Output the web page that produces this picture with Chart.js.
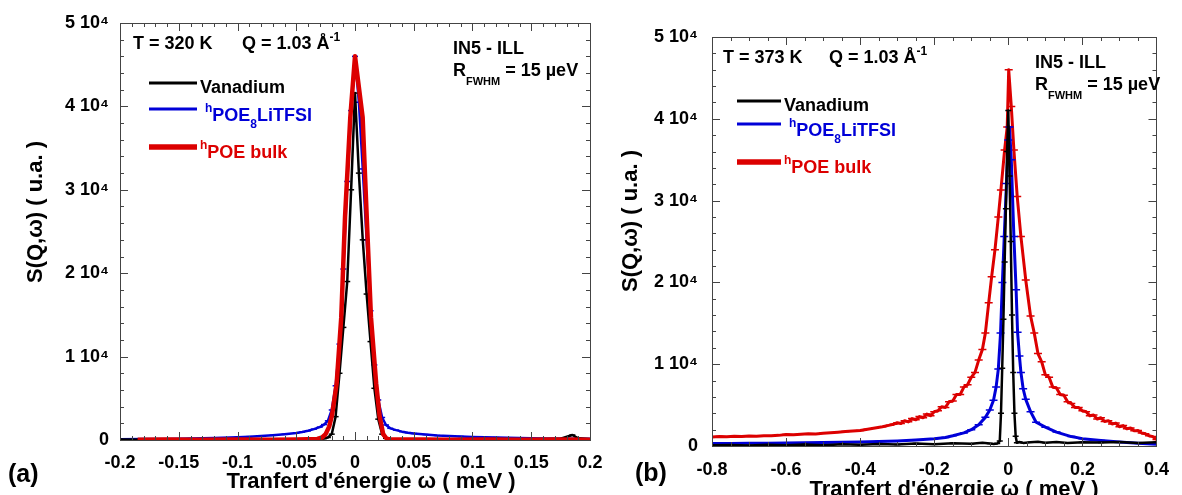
<!DOCTYPE html>
<html>
<head>
<meta charset="utf-8">
<script src="https://cdn.jsdelivr.net/npm/chart.js@4"></script>
<style>
html, body { margin: 0; padding: 0; background: #fff; overflow: hidden; width: 1182px; height: 495px; }
canvas { position: absolute; top: 0; }
</style>
</head>
<body>
<canvas id="grA" width="620" height="495" style="left:0"></canvas>
<canvas id="grB" width="582" height="505" style="left:600px"></canvas>
<script>
// ---- (a) T = 320 K ----
const aVanX = [-0.2,-0.18,-0.16,-0.14,-0.12,-0.1,-0.08,-0.06,-0.05,-0.04,-0.033,-0.0297,-0.0264,-0.0231,-0.0198,-0.0165,-0.0132,-0.0099,-0.0066,-0.0033,0,0.0033,0.0066,0.0099,0.0132,0.0165,0.0198,0.0231,0.0264,0.0297,0.035,0.04,0.05,0.06,0.08,0.1,0.12,0.14,0.16,0.175,0.185,0.19,0.2];
const aVanY = [60,20,80,40,10,60,30,80,50,90,120,100,180,300,700,2800,8000,13500,19000,30000,41600,32000,24000,17500,11800,6200,2500,700,200,80,60,30,70,40,90,30,110,60,80,150,600,200,100];

const aLitX = [-0.2,-0.18,-0.16,-0.14,-0.12,-0.1,-0.09,-0.08,-0.07,-0.06,-0.05,-0.045,-0.04,-0.035,-0.03,-0.0264,-0.0231,-0.0198,-0.0165,-0.0132,-0.0099,-0.0066,-0.0033,0,0.0033,0.0066,0.0099,0.0132,0.0165,0.0198,0.0231,0.0264,0.03,0.035,0.04,0.045,0.05,0.06,0.07,0.08,0.09,0.1,0.12,0.14,0.16,0.18,0.2];
const aLitY = [100,110,130,170,230,340,400,470,560,680,830,950,1100,1300,1550,1850,2300,3600,6500,11500,20500,31000,39500,46000,40500,32500,24000,15500,9000,4800,2700,1800,1400,1180,1000,880,780,650,540,470,420,370,290,230,190,160,140];

const aBulkX = [-0.185,-0.16,-0.13,-0.1,-0.07,-0.05,-0.04,-0.032,-0.028,-0.025,-0.022,-0.0195,-0.0156,-0.0117,-0.0085,-0.004,0,0.0065,0.01,0.0136,0.018,0.021,0.024,0.027,0.03,0.04,0.06,0.08,0.11,0.14,0.17,0.2];
const aBulkY = [40,60,30,50,40,60,80,120,300,700,1600,3000,6800,14700,26700,38700,46000,38700,26700,14700,6800,2800,700,150,60,50,70,40,60,30,50,40];

// ---- (b) T = 373 K ----
const bVanX = [-0.8,-0.75,-0.7,-0.65,-0.6,-0.55,-0.5,-0.45,-0.4,-0.35,-0.3,-0.25,-0.2,-0.15,-0.1,-0.07,-0.05,-0.04,-0.03,-0.0231,-0.0198,-0.0165,-0.0132,-0.0099,-0.0066,-0.0033,0,0.0033,0.0066,0.0099,0.0132,0.0165,0.0198,0.0231,0.03,0.04,0.06,0.08,0.1,0.13,0.16,0.2,0.25,0.3,0.35,0.4];
const bVanY = [80,120,60,150,100,180,90,200,150,250,180,300,220,350,280,400,320,250,300,600,4000,9500,15500,22500,29000,36000,41000,33000,25000,16000,9000,4000,1200,400,500,380,450,520,400,480,380,450,420,500,380,450];

const bLitX = [-0.8,-0.75,-0.7,-0.65,-0.6,-0.55,-0.5,-0.45,-0.4,-0.35,-0.3,-0.25,-0.2,-0.17,-0.15,-0.12,-0.1,-0.08,-0.062,-0.05,-0.04,-0.033,-0.027,-0.021,-0.016,-0.011,-0.005,0,0.003,0.008,0.015,0.021,0.025,0.03,0.034,0.04,0.047,0.06,0.075,0.1,0.13,0.17,0.2,0.25,0.3,0.35,0.4];
const bLitY = [300,320,330,350,370,400,430,460,500,550,620,740,900,1050,1250,1600,2000,2600,3500,4400,5600,7200,9400,13800,20000,25600,32100,37400,39000,35000,25600,19100,13900,11000,9000,7000,5700,4200,2900,2300,1700,1150,900,680,480,330,200];

const bBulkX = [-0.8,-0.78,-0.76,-0.74,-0.72,-0.7,-0.68,-0.66,-0.64,-0.62,-0.6,-0.58,-0.56,-0.54,-0.52,-0.5,-0.48,-0.46,-0.44,-0.42,-0.4,-0.38,-0.36,-0.34,-0.32,
  -0.31,-0.3,-0.29,-0.28,-0.27,-0.26,-0.25,-0.24,-0.23,-0.22,-0.21,-0.2,-0.19,-0.18,-0.17,-0.16,-0.15,-0.14,-0.13,-0.12,-0.11,-0.1,-0.09,-0.08,-0.07,
  -0.062,-0.053,-0.045,-0.036,-0.027,-0.02,-0.01,-0.003,0.001,0.008,0.015,0.024,0.034,0.047,0.06,
  0.07,0.08,0.09,0.1,0.11,0.12,0.13,0.14,0.15,0.16,0.17,0.18,0.19,0.2,0.21,0.22,0.23,0.24,0.25,0.26,0.27,0.28,0.29,0.3,0.31,0.32,0.33,0.34,0.35,0.36,0.37,0.38,0.39,0.4];
const bBulkY = [1100,1150,1120,1180,1160,1220,1200,1260,1240,1300,1400,1380,1450,1500,1480,1550,1620,1680,1760,1820,1900,2050,2200,2350,2550,
  2650,2850,2750,3100,2950,3350,3200,3600,3450,3900,3700,4200,4300,4800,4700,5400,5500,6300,6300,7200,7500,8400,9000,10500,11800,
  13800,17500,20700,24000,28000,31300,36200,39000,46000,41500,36200,30500,25600,20300,15900,
  13800,11300,10300,8700,8400,7200,7100,6300,6200,5400,5200,4700,4700,4300,4200,3700,3800,3300,3450,3000,3100,2700,2800,2350,2500,2100,2200,1850,1900,1600,1500,1250,1150,800];

// axes
const xTicksA = [-0.2,-0.15,-0.1,-0.05,0,0.05,0.1,0.15,0.2];
const xTicksB = [-0.8,-0.6,-0.4,-0.2,0,0.2,0.4];
const yTicks = [0,10000,20000,30000,40000,50000];
const xTitle = "Tranfert d'énergie ω ( meV )";
const yTitle = 'S(Q,ω) ( u.a. )';

const seriesNames = ['Vanadium', 'POE', 'POE bulk'];
const BLACK = '#000000', BLUE = '#0000d8', RED = '#dc0000';
const FONT = "'Liberation Sans', Arial, Helvetica, sans-serif";

function pts(xs, ys) { return xs.map((x, i) => ({ x: x, y: ys[i] })); }

// texte avec exposants / indices : [texte, taille, decalage vertical]
function rich(ctx, x, y, parts, color) {
  ctx.fillStyle = color;
  ctx.textBaseline = 'alphabetic';
  ctx.textAlign = 'left';
  parts.forEach(p => {
    ctx.font = 'bold ' + p[1] + 'px ' + FONT;
    ctx.fillText(p[0], x, y + (p[2] || 0));
    x += ctx.measureText(p[0]).width;
  });
}

// cadre avec graduations vers l'interieur sur les 4 cotes
const framePlugin = {
  id: 'frame',
  afterDatasetsDraw(chart, args, opts) {
    const ctx = chart.ctx, a = chart.chartArea, sx = chart.scales.x, sy = chart.scales.y;
    ctx.save();
    ctx.strokeStyle = '#444';
    ctx.lineWidth = 1;
    ctx.beginPath();
    const nx = Math.round((sx.max - sx.min) / opts.xMinor);
    for (let i = 0; i <= nx; i++) {
      const v = sx.min + i * opts.xMinor;
      const px = Math.round(sx.getPixelForValue(v)) + 0.5;
      const len = (i % opts.xEvery === 0) ? 8 : 4;
      ctx.moveTo(px, a.bottom); ctx.lineTo(px, a.bottom - len);
      ctx.moveTo(px, a.top); ctx.lineTo(px, a.top + len);
    }
    const ny = Math.round((sy.max - sy.min) / opts.yMinor);
    for (let i = 0; i <= ny; i++) {
      const v = sy.min + i * opts.yMinor;
      const py = Math.round(sy.getPixelForValue(v)) + 0.5;
      const len = (i % opts.yEvery === 0) ? 8 : 4;
      ctx.moveTo(a.left, py); ctx.lineTo(a.left + len, py);
      ctx.moveTo(a.right, py); ctx.lineTo(a.right - len, py);
    }
    ctx.stroke();
    ctx.strokeRect(Math.round(a.left) + 0.5, Math.round(a.top) + 0.5, Math.round(a.right - a.left), Math.round(a.bottom - a.top));
    ctx.restore();
  }
};

// annotations, titres des axes + legende
const notesPlugin = {
  id: 'notes',
  afterDraw(chart, args, o) {
    const ctx = chart.ctx;
    ctx.save();
    rich(ctx, o.tX, o.tY, [[o.temp, 18]], BLACK);
    rich(ctx, o.qX, o.tY, [['Q = 1.03 Å', 18], ['-1', 12, -8]], BLACK);
    rich(ctx, o.iX, o.iY, [['IN5 - ILL', 18]], BLACK);
    rich(ctx, o.iX, o.iY + 22, [['R', 18], ['FWHM', 11, 9], [' = 15 µeV', 18]], BLACK);
    const L = o.leg;
    ctx.lineCap = 'butt';
    [[BLACK, 3, L.y[0]], [BLUE, 3, L.y[1]], [RED, 5.5, L.y[2]]].forEach(s => {
      ctx.strokeStyle = s[0]; ctx.lineWidth = s[1];
      ctx.beginPath(); ctx.moveTo(L.x1, s[2]); ctx.lineTo(L.x2, s[2]); ctx.stroke();
    });
    rich(ctx, L.x2 + 3, L.y[0] + 10, [[seriesNames[0], 18]], BLACK);
    rich(ctx, L.x2 + 8, L.y[1] + 12, [['h', 12, -9], [seriesNames[1], 18], ['8', 12, 7], ['LiTFSI', 18]], BLUE);
    rich(ctx, L.x2 + 3, L.y[2] + 11, [['h', 12, -9], [seriesNames[2], 18]], RED);
    rich(ctx, o.pX, o.pY, [[o.panel, 25]], BLACK);

    ctx.fillStyle = BLACK;
    ctx.font = 'bold 22px ' + FONT;
    ctx.textBaseline = 'alphabetic';
    ctx.textAlign = 'center';
    ctx.fillText(xTitle, o.xtX, o.xtY);
    ctx.translate(o.ytX, o.ytY);
    ctx.rotate(-Math.PI / 2);
    ctx.fillText(yTitle, 0, 0);
    ctx.restore();
  }
};

function ds(data, color, width, radius, order) {
  return {
    data: data, showLine: true, borderColor: color, backgroundColor: color,
    borderWidth: width, borderJoinStyle: 'round', tension: 0, order: order,
    pointStyle: 'line', pointRadius: radius, pointHoverRadius: radius,
    pointBorderColor: color, pointBorderWidth: 1.5
  };
}

function axisFont(size) { return { family: FONT, size: size, weight: 'bold' }; }

function makeChart(id, p) {
  return new Chart(document.getElementById(id), {
    type: 'scatter',
    data: { datasets: p.datasets },
    options: {
      responsive: false, animation: false, devicePixelRatio: 1,
      layout: { padding: p.pad },
      plugins: {
        legend: { display: false }, tooltip: { enabled: false },
        frame: p.frame, notes: p.notes
      },
      scales: {
        x: {
          type: 'linear', min: p.xTicks[0], max: p.xTicks[p.xTicks.length - 1],
          afterBuildTicks: s => { s.ticks = p.xTicks.map(v => ({ value: v })); },
          afterFit: s => { s.height = p.xH; },
          grid: { display: false, drawTicks: false }, border: { display: false },
          ticks: { font: axisFont(18), color: '#000', padding: p.xPad, maxRotation: 0, autoSkip: false,
                   callback: v => String(+(+v).toFixed(3)) }
        },
        y: {
          type: 'linear', min: 0, max: 50000,
          afterBuildTicks: s => { s.ticks = yTicks.map(v => ({ value: v })); },
          afterFit: s => { s.width = p.yW; },
          grid: { display: false, drawTicks: false }, border: { display: false },
          ticks: { font: axisFont(18), color: '#000', padding: p.yPad,
                   callback: v => v === 0 ? '0' : (v / 10000) + ' 10⁴' }
        }
      }
    },
    plugins: [framePlugin, notesPlugin]
  });
}

makeChart('grA', {
  datasets: [
    ds(pts(aVanX, aVanY), BLACK, 2.5, 3, 1),
    ds(pts(aLitX, aLitY), BLUE, 2.5, 3, 2),
    ds(pts(aBulkX, aBulkY), RED, 4.5, 0, 0)
  ],
  pad: { left: 0, top: 23, right: 30, bottom: 0 },
  xTicks: xTicksA, xH: 55, xPad: 12, yW: 120, yPad: 11,
  frame: { xMinor: 0.01, xEvery: 5, yMinor: 2000, yEvery: 5 },
  notes: { temp: 'T = 320 K', tX: 133, qX: 242, tY: 49, iX: 453, iY: 54,
           leg: { x1: 149, x2: 197, y: [83, 109, 147] }, panel: '(a)', pX: 8, pY: 482,
           xtX: 371, xtY: 488, ytX: 42, ytY: 212 }
});

makeChart('grB', {
  datasets: [
    ds(pts(bVanX, bVanY), BLACK, 2.5, 3, 0),
    ds(pts(bLitX, bLitY), BLUE, 3, 4, 1),
    ds(pts(bBulkX, bBulkY), RED, 3, 4, 2)
  ],
  pad: { left: 0, top: 37, right: 12, bottom: 0 },
  xTicks: xTicksB, xH: 59, xPad: 13, yW: 112, yPad: 14,
  frame: { xMinor: 0.05, xEvery: 4, yMinor: 2000, yEvery: 5 },
  notes: { temp: 'T = 373 K', tX: 123, qX: 229, tY: 63, iX: 435, iY: 68,
           leg: { x1: 137, x2: 181, y: [101, 124, 162] }, panel: '(b)', pX: 35, pY: 481,
           xtX: 354, xtY: 496, ytX: 37, ytY: 221 }
});
</script>
</body>
</html>
